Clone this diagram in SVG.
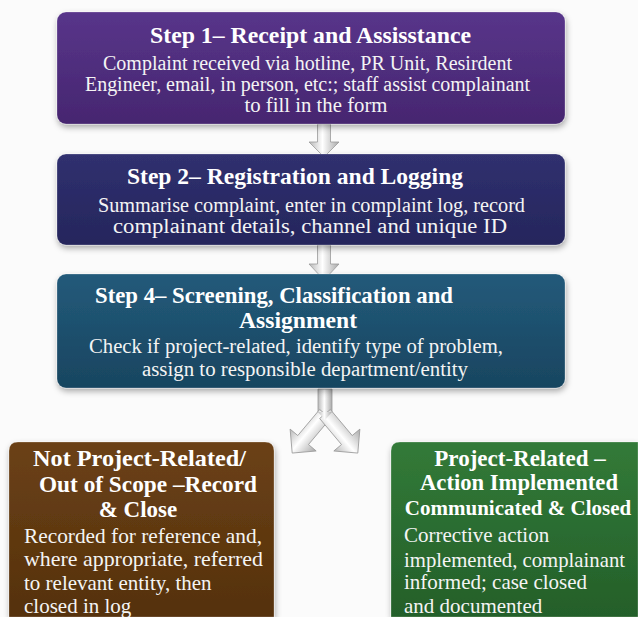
<svg xmlns="http://www.w3.org/2000/svg" width="638" height="617" viewBox="0 0 638 617">
<defs>
<linearGradient id="gPurple" x1="0" y1="0" x2="0" y2="1"><stop offset="0" stop-color="#58358a"/><stop offset="1" stop-color="#462670"/></linearGradient>
<linearGradient id="gNavy" x1="0" y1="0" x2="0" y2="1"><stop offset="0" stop-color="#30306f"/><stop offset="1" stop-color="#25265c"/></linearGradient>
<linearGradient id="gTeal" x1="0" y1="0" x2="0" y2="1"><stop offset="0" stop-color="#235a7a"/><stop offset="1" stop-color="#184560"/></linearGradient>
<linearGradient id="gBrown" x1="0" y1="0" x2="0" y2="1"><stop offset="0" stop-color="#6b4116"/><stop offset="1" stop-color="#55310c"/></linearGradient>
<linearGradient id="gGreen" x1="0" y1="0" x2="0" y2="1"><stop offset="0" stop-color="#327a38"/><stop offset="1" stop-color="#245f29"/></linearGradient>
<linearGradient id="gSilver" x1="0" y1="0" x2="1" y2="0"><stop offset="0" stop-color="#b8b8b8"/><stop offset="0.45" stop-color="#ffffff"/><stop offset="1" stop-color="#a9a9a9"/></linearGradient>
<filter id="sh" x="-10%" y="-10%" width="120%" height="130%"><feDropShadow dx="1" dy="3" stdDeviation="3" flood-color="#000" flood-opacity="0.35"/></filter>
</defs>
<style>
.box{stroke:#ffffff;stroke-opacity:0.25;stroke-width:1;filter:url(#sh)}
.t{font-family:"Liberation Serif","Times New Roman",serif;fill:#ffffff;font-weight:bold;font-size:23px;text-anchor:middle}
.t2{font-size:21px}
.b{font-family:"Liberation Serif","Times New Roman",serif;fill:#f4f4f4;font-size:20.5px;text-anchor:middle}
.bl{font-family:"Liberation Serif","Times New Roman",serif;fill:#f4f4f4;font-size:21px;text-anchor:start}
.arr{fill:url(#gSilver);stroke:#9a9a9a;stroke-width:0.8}
</style>
<rect width="638" height="617" fill="#fbfbfb"/>

<g id="connectors">
  <g class="arr"><path d="M317.5,124 H330.5 V142 H339 L324,157 L309,142 H317.5 Z"/></g>
  <g class="arr"><path d="M317.5,245 H330.5 V264 H339 L324,280 L309,264 H317.5 Z"/></g>
  <g class="arr">
    <path d="M318,389 H332 V414 L325,421 L318,414 Z"/>
    <g transform="translate(325,414) rotate(40)"><path d="M-7,0 H7 V34 H17 L0,51 L-17,34 H-7 Z"/></g>
    <g transform="translate(325,414) rotate(-40)"><path d="M-7,0 H7 V34 H17 L0,51 L-17,34 H-7 Z"/></g>
    <path d="M318,412 H332 L325,420 Z" stroke="none"/>
  </g>
</g>

<g id="step1">
  <rect class="box" x="57" y="12" width="508" height="112" rx="9" fill="url(#gPurple)"/>
  <text class="t" x="310.5" y="43" textLength="321" lengthAdjust="spacingAndGlyphs">Step 1– Receipt and Assisstance</text>
  <text class="b" x="307.5" y="70" textLength="409" lengthAdjust="spacingAndGlyphs">Complaint received via hotline, PR Unit, Resirdent</text>
  <text class="b" x="307.5" y="91" textLength="445" lengthAdjust="spacingAndGlyphs">Engineer, email, in person, etc:; staff assist complainant</text>
  <text class="b" x="316" y="112" textLength="143" lengthAdjust="spacingAndGlyphs">to fill in the form</text>
</g>

<g id="step2">
  <rect class="box" x="57" y="154" width="508" height="91" rx="9" fill="url(#gNavy)"/>
  <text class="t" x="295" y="184" textLength="336" lengthAdjust="spacingAndGlyphs">Step 2– Registration and Logging</text>
  <text class="b" x="311.5" y="212" textLength="427" lengthAdjust="spacingAndGlyphs">Summarise complaint, enter in complaint log, record</text>
  <text class="b" x="310" y="233" textLength="394" lengthAdjust="spacingAndGlyphs">complainant details, channel and unique ID</text>
</g>

<g id="step4">
  <rect class="box" x="57" y="274" width="508" height="114" rx="9" fill="url(#gTeal)"/>
  <text class="t" x="274" y="303" textLength="358" lengthAdjust="spacingAndGlyphs">Step 4– Screening, Classification and</text>
  <text class="t" x="298" y="328" textLength="118" lengthAdjust="spacingAndGlyphs">Assignment</text>
  <text class="b" x="296" y="353" textLength="414" lengthAdjust="spacingAndGlyphs">Check if project-related, identify type of problem,</text>
  <text class="b" x="305" y="376" textLength="326" lengthAdjust="spacingAndGlyphs">assign to responsible department/entity</text>
</g>

<g id="notProject">
  <path class="box" d="M9,617 V451 Q9,442 18,442 H265 Q274,442 274,451 V617 Z" fill="url(#gBrown)"/>
  <text class="t" x="139.5" y="466" textLength="213" lengthAdjust="spacingAndGlyphs">Not Project-Related/</text>
  <text class="t" x="148" y="492" textLength="218" lengthAdjust="spacingAndGlyphs">Out of Scope –Record</text>
  <text class="t" x="138" y="517">&amp; Close</text>
  <text class="bl" x="24" y="543" textLength="238" lengthAdjust="spacingAndGlyphs">Recorded for reference and,</text>
  <text class="bl" x="24" y="566" textLength="239" lengthAdjust="spacingAndGlyphs">where appropriate, referred</text>
  <text class="bl" x="24" y="590">to relevant entity, then</text>
  <text class="bl" x="24" y="613">closed in log</text>
</g>

<g id="project">
  <path class="box" d="M391,617 V451 Q391,442 400,442 H638 V617 Z" fill="url(#gGreen)"/>
  <text class="t" x="520" y="466">Project-Related –</text>
  <text class="t" x="519" y="490" textLength="198" lengthAdjust="spacingAndGlyphs">Action Implemented</text>
  <text class="t t2" x="518" y="515">Communicated &amp; Closed</text>
  <text class="bl" x="404" y="542">Corrective action</text>
  <text class="bl" x="404" y="567" textLength="221" lengthAdjust="spacingAndGlyphs">implemented, complainant</text>
  <text class="bl" x="404" y="589">informed; case closed</text>
  <text class="bl" x="404" y="613">and documented</text>
</g>
</svg>
